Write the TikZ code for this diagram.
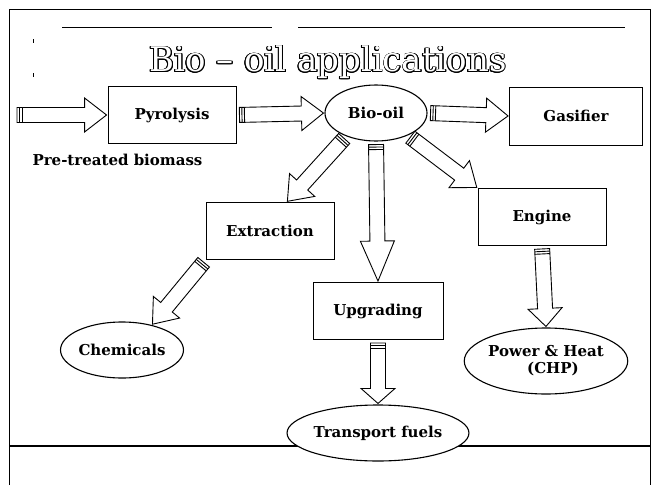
\documentclass[tikz,border=0pt]{standalone}
\usepackage{fontspec}
\setmainfont{DejaVu Serif}
\usepackage{contour}
\contourlength{0.9pt}
\usetikzlibrary{calc,shapes.geometric}

% flecha gruesa hueca: [largo de la punta]{desde}{hasta}
\newcommand{\flechagorda}[3][22pt]{%
  \coordinate (ini) at ($(#2)!3pt!(#3)$);
  \coordinate (fin) at ($(#3)!1pt!(#2)$);
  \draw[flecha] ($(ini)!7.5pt!90:(fin)$) -- ($(fin)!#1!(ini)!7.5pt!-90:(ini)$)
    -- ($(fin)!#1!(ini)!17pt!-90:(ini)$) -- (fin)
    -- ($(fin)!#1!(ini)!17pt!90:(ini)$) -- ($(fin)!#1!(ini)!7.5pt!90:(ini)$)
    -- ($(ini)!7.5pt!-90:(fin)$) -- cycle;
  \foreach \d in {2.5pt,5pt}
    \draw[flecha] ($(ini)!\d!(fin)!7.5pt!90:(fin)$) -- ($(ini)!\d!(fin)!7.5pt!-90:(fin)$);
}

\tikzset{
  caja/.style={draw, line width=0.9pt, minimum width=128pt, minimum height=57pt,
    font=\bfseries\fontsize{15}{17}\selectfont},
  ovalo/.style={draw, ellipse, fill=white, line width=1.1pt, inner sep=0pt,
    font=\bfseries\fontsize{15}{17}\selectfont, align=center},
  flecha/.style={line width=0.9pt, fill=white, line join=miter},
}

\begin{document}
\begin{tikzpicture}[x=1pt, y=-1pt]
    \useasboundingbox (0,0) rectangle (656,485);

    % Marco de la lamina
    \draw[line width=0.9pt] (9,485) -- (9,9) -- (650,9) -- (650,485);
    \draw[line width=0.5pt] (62,27) -- (272,27);
    \draw[line width=0.5pt] (298,27) -- (625,27);
    \draw[line width=0.8pt] (33,39) -- (33,43);
    \draw[line width=0.8pt] (33,73) -- (33,77);

    % Titulo
    \node[font=\fontsize{34}{38}\selectfont, text=white] (titulo) at (328,63)
      {\contour{black}{Bio -- oil applications}};

    % Procesos
    \node[caja] (pyro) at (172,115) {Pyrolysis};
    \node[ovalo, minimum width=102pt, minimum height=56pt] (bio) at (376,113) {Bio-oil};
    \node[caja, minimum width=133pt, minimum height=58pt] (gas) at (576,116) {Gasifier};
    \node[caja] (ext) at (270,231) {Extraction};
    \node[caja, minimum width=130pt] (upg) at (378,311) {Upgrading};
    \node[caja] (eng) at (542,217) {Engine};

    \node[anchor=west, font=\bfseries\fontsize{15}{17}\selectfont] (pre) at (29,160) {Pre-treated biomass};

    % Linea inferior (por debajo del ovalo)
    \draw[line width=1.2pt] (9,446) -- (650,446);

    % Productos
    \node[ovalo, minimum width=104pt, minimum height=56pt] (chem) at (122,350) {Chemicals};
    \node[ovalo, minimum width=162pt, minimum height=56pt] (trn) at (378,433) {Transport fuels};
    \node[ovalo, minimum width=146pt, minimum height=66pt] (pow) at (546,361)
      {Power \& Heat\\\hspace*{14pt}(CHP)};

    % Flechas
    \coordinate (entrada) at (14,115);
    \flechagorda{entrada}{pyro.west}
    \flechagorda{pyro.east}{bio.west}
    \flechagorda{bio.east}{gas.west}
    \flechagorda{bio.-142}{ext.60}
    \flechagorda[40pt]{bio.south}{upg.north}
    \flechagorda{bio.-35}{eng.north west}
    \flechagorda{ext.south west}{chem.40}
    \flechagorda[18pt]{eng.south}{pow.north}
    \flechagorda[15pt]{upg.south}{trn.north}
\end{tikzpicture}
\end{document}
